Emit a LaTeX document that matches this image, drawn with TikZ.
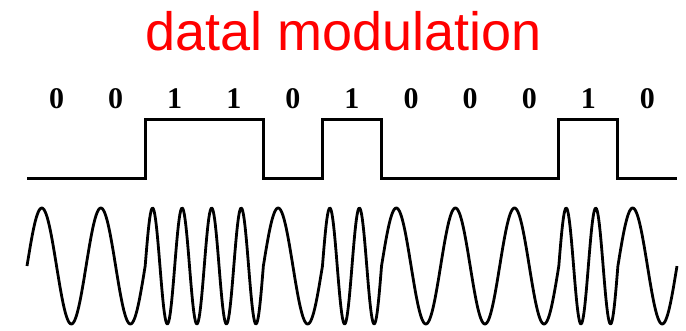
\documentclass[tikz,border=0pt]{standalone}
\usepackage{fontspec}
\setmainfont{Liberation Serif}
\newfontfamily\titlefont{Liberation Sans}
\begin{document}
\begin{tikzpicture}[x=1pt,y=-1pt,
  sig/.style={line width=3pt,black,line join=miter},
  wave/.style={line width=2.8pt,black,line join=round},
  bitlabel/.style={anchor=base,inner sep=0pt,font=\fontsize{30}{36}\selectfont\bfseries},
  titlestyle/.style={anchor=base,inner sep=0pt,text=red,font=\titlefont\fontsize{54}{60}\selectfont}]
\useasboundingbox (0,0) rectangle (686,330);
\def\w{59.09}
\node[titlestyle] (title) at (344,50) {datal modulation};
\foreach \d [count=\i from 0] in {0,0,1,1,0,1,0,0,0,1,0}
  \node[bitlabel] (bit\i) at ({27+(\i+0.5)*\w},108.5) {\d};
\draw[sig] (27,178) -- (145.2,178) -- (145.2,119.5) -- (263.4,119.5) -- (263.4,178)
  -- (322.5,178) -- (322.5,119.5) -- (381.6,119.5) -- (381.6,178)
  -- (558.8,178) -- (558.8,119.5) -- (617.9,119.5) -- (617.9,178) -- (677,178);
\draw[wave] (27,266) \foreach \b [count=\i from 0] in {1,1,2,2,1,2,1,1,1,2,1} {
  -- plot[domain=0:1,samples=81,variable=\t] ({27+(\i+\t)*\w},{266-58*sin(\b*360*\t)}) };
\end{tikzpicture}
\end{document}
